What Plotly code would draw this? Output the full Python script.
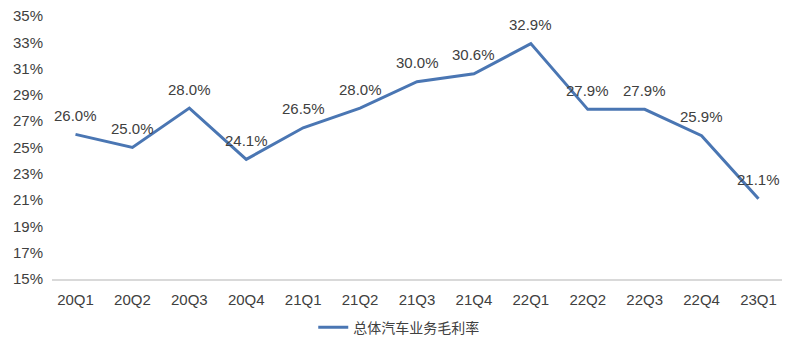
import plotly.graph_objects as go

quarters = ["20Q1","20Q2","20Q3","20Q4","21Q1","21Q2","21Q3","21Q4","22Q1","22Q2","22Q3","22Q4","23Q1"]
margin_pct = [26.0, 25.0, 28.0, 24.1, 26.5, 28.0, 30.0, 30.6, 32.9, 27.9, 27.9, 25.9, 21.1]
series_name = "总体汽车业务毛利率"
y_ticks = [15, 17, 19, 21, 23, 25, 27, 29, 31, 33, 35]

font_family = "Liberation Sans, Arial, Noto Sans CJK SC, sans-serif"

fig = go.Figure()
fig.add_trace(go.Scatter(
    x=quarters, y=margin_pct, mode="lines", name=series_name,
    line=dict(color="#4A76B3", width=3),
    showlegend=True,
))
for q, v in zip(quarters, margin_pct):
    fig.add_annotation(x=q, y=v, text=f"{v:.1f}%", showarrow=False,
                       yshift=19, font=dict(size=15, color="#404040", family=font_family))

fig.update_layout(
    width=800, height=351,
    margin=dict(l=52, r=18, t=16, b=72, autoexpand=False),
    paper_bgcolor="white", plot_bgcolor="white",
    font=dict(family=font_family, size=15, color="#404040"),
    xaxis=dict(type="category", showgrid=False, showline=True, linecolor="#D9D9D9", linewidth=1.5,
               ticks="", ticklabelstandoff=6, tickfont=dict(size=15, color="#404040")),
    yaxis=dict(range=[15, 35], tickvals=y_ticks, ticktext=[f"{t}%" for t in y_ticks],
               showgrid=False, zeroline=False, showline=False, ticks="", ticklabelstandoff=8,
               tickfont=dict(size=15, color="#404040")),
    legend=dict(orientation="h", x=0.475, xanchor="center", y=-0.185, yanchor="middle",
                font=dict(size=14, color="#404040", family="Noto Sans CJK SC, sans-serif")),
)

fig.write_html("out.html")
